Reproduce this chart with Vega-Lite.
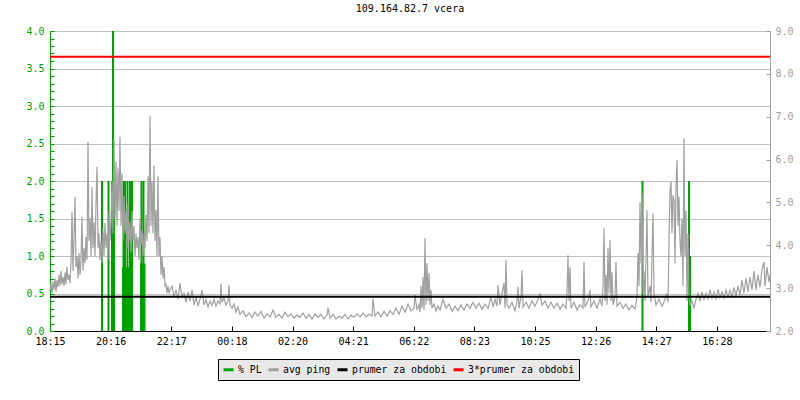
{
"$schema": "https://vega.github.io/schema/vega-lite/v6.json",
"width": 720, "height": 300,
"autosize": {"type": "none"},
"padding": {"left": 50, "top": 31, "right": 30, "bottom": 69},
"background": "white",
"title": {"text": "109.164.82.7 vcera", "font": "DejaVu Sans Mono", "fontSize": 10, "fontWeight": "normal", "color": "#000000", "anchor": "middle", "frame": "group", "offset": 12},
"config": {"view": {"stroke": null}, "axis": {"labelFont": "DejaVu Sans Mono", "labelFontSize": 10, "domainWidth": 1, "tickWidth": 1},
 "legend": {"title": null, "orient": "none", "legendX": 168, "legendY": 328, "direction": "horizontal", "columns": 4,
  "symbolType": "stroke", "symbolStrokeWidth": 3, "symbolSize": 100, "fillColor": "#e8e8e8", "strokeColor": "#000000",
  "padding": 4, "labelFont": "DejaVu Sans Mono", "labelFontSize": 9.8, "labelColor": "#000000", "columnPadding": 0, "labelOffset": 3}},
"datasets": {
"pl": [{"t":104,"pl":2.0},{"t":117,"pl":2.0},{"t":124,"pl":2.0},{"t":126,"pl":4.0},{"t":128,"pl":2.0},{"t":146,"pl":0.85},{"t":147,"pl":2.0},{"t":148,"pl":0.85},{"t":150,"pl":2.0},{"t":152,"pl":0.85},{"t":155,"pl":2.0},{"t":157,"pl":0.85},{"t":160,"pl":2.0},{"t":162,"pl":0.85},{"t":164,"pl":2.0},{"t":182,"pl":0.9},{"t":183,"pl":2.0},{"t":185,"pl":0.9},{"t":187,"pl":2.0},{"t":189,"pl":0.9},{"t":1185,"pl":2.0},{"t":1278,"pl":2.0},{"t":1280,"pl":1.0}],
"avg": [{"s":"prumer za obdobi","v":2.80},{"s":"3*prumer za obdobi","v":8.40}],
"ping": [
{"t":0,"ping":2.96},{"t":2,"ping":3.09},{"t":4,"ping":2.88},{"t":6,"ping":3.16},{"t":8,"ping":2.96},{"t":10,"ping":3.23},{"t":12,"ping":2.91},{"t":14,"ping":3.19},{"t":16,"ping":3.02},{"t":18,"ping":3.31},{"t":20,"ping":3.05},{"t":22,"ping":3.40},{"t":24,"ping":3.09},{"t":26,"ping":3.26},{"t":28,"ping":3.05},{"t":30,"ping":3.37},{"t":32,"ping":3.09},{"t":34,"ping":3.49},{"t":36,"ping":3.19},{"t":38,"ping":3.31},{"t":40,"ping":3.12},{"t":42,"ping":3.58},{"t":44,"ping":4.78},{"t":46,"ping":3.40},{"t":48,"ping":4.17},{"t":50,"ping":5.13},{"t":52,"ping":3.49},{"t":54,"ping":3.75},{"t":56,"ping":3.23},{"t":58,"ping":3.82},{"t":60,"ping":3.31},{"t":62,"ping":3.66},{"t":64,"ping":4.66},{"t":66,"ping":3.40},{"t":68,"ping":3.93},{"t":70,"ping":3.58},{"t":72,"ping":4.19},{"t":74,"ping":3.66},{"t":76,"ping":6.41},{"t":78,"ping":4.10},{"t":80,"ping":4.63},{"t":82,"ping":3.75},{"t":84,"ping":5.36},{"t":86,"ping":3.93},{"t":88,"ping":4.54},{"t":90,"ping":3.75},{"t":92,"ping":4.98},{"t":94,"ping":5.83},{"t":96,"ping":3.93},{"t":98,"ping":4.28},{"t":100,"ping":3.66},{"t":102,"ping":4.10},{"t":104,"ping":3.58},{"t":106,"ping":4.36},{"t":108,"ping":3.75},{"t":110,"ping":4.52},{"t":112,"ping":3.93},{"t":114,"ping":4.28},{"t":116,"ping":3.66},{"t":118,"ping":4.80},{"t":120,"ping":4.10},{"t":122,"ping":4.54},{"t":124,"ping":5.50},{"t":126,"ping":4.28},{"t":128,"ping":6.46},{"t":130,"ping":4.63},{"t":132,"ping":5.96},{"t":134,"ping":4.45},{"t":136,"ping":5.80},{"t":138,"ping":4.80},{"t":140,"ping":6.53},{"t":142,"ping":4.45},{"t":144,"ping":5.68},{"t":146,"ping":4.10},{"t":148,"ping":5.15},{"t":150,"ping":4.28},{"t":152,"ping":4.80},{"t":154,"ping":3.93},{"t":156,"ping":4.98},{"t":158,"ping":4.10},{"t":160,"ping":4.54},{"t":162,"ping":3.84},{"t":164,"ping":4.80},{"t":166,"ping":4.10},{"t":168,"ping":4.45},{"t":170,"ping":3.75},{"t":172,"ping":4.28},{"t":174,"ping":3.93},{"t":176,"ping":4.19},{"t":178,"ping":3.66},{"t":180,"ping":4.63},{"t":182,"ping":4.01},{"t":184,"ping":4.36},{"t":186,"ping":3.75},{"t":188,"ping":4.28},{"t":190,"ping":3.93},{"t":192,"ping":4.71},{"t":194,"ping":4.10},{"t":196,"ping":5.61},{"t":198,"ping":4.28},{"t":200,"ping":7.01},{"t":202,"ping":4.45},{"t":204,"ping":5.50},{"t":206,"ping":4.28},{"t":208,"ping":5.87},{"t":210,"ping":4.10},{"t":212,"ping":4.82},{"t":214,"ping":3.75},{"t":216,"ping":5.61},{"t":218,"ping":3.75},{"t":220,"ping":4.19},{"t":222,"ping":3.31},{"t":224,"ping":3.75},{"t":226,"ping":3.23},{"t":228,"ping":3.49},{"t":230,"ping":3.05},{"t":232,"ping":3.09},{"t":234,"ping":2.88},{"t":236,"ping":3.05},{"t":238,"ping":2.88},{"t":240,"ping":2.96},
{"t":244,"ping":3.05},{"t":248,"ping":2.79},{"t":252,"ping":2.96},{"t":256,"ping":2.74},{"t":260,"ping":3.12},{"t":264,"ping":2.79},{"t":268,"ping":2.88},{"t":272,"ping":2.67},{"t":276,"ping":2.91},{"t":280,"ping":2.70},{"t":284,"ping":2.96},{"t":288,"ping":2.61},{"t":292,"ping":2.79},{"t":296,"ping":2.58},{"t":300,"ping":2.74},{"t":304,"ping":2.96},{"t":308,"ping":2.61},{"t":312,"ping":2.74},{"t":316,"ping":2.56},{"t":320,"ping":2.70},{"t":324,"ping":2.60},{"t":328,"ping":2.74},{"t":332,"ping":2.58},{"t":336,"ping":2.70},{"t":340,"ping":2.63},{"t":342,"ping":3.10},{"t":344,"ping":2.67},{"t":348,"ping":2.77},{"t":352,"ping":2.60},{"t":356,"ping":2.70},{"t":358,"ping":3.07},{"t":360,"ping":2.61},{"t":364,"ping":2.53},{"t":368,"ping":2.63},{"t":372,"ping":2.44},{"t":376,"ping":2.56},{"t":380,"ping":2.39},
{"t":386,"ping":2.47},{"t":392,"ping":2.33},{"t":398,"ping":2.42},{"t":404,"ping":2.32},{"t":410,"ping":2.44},{"t":416,"ping":2.35},{"t":422,"ping":2.46},{"t":428,"ping":2.30},{"t":434,"ping":2.40},{"t":440,"ping":2.33},{"t":446,"ping":2.49},{"t":452,"ping":2.32},{"t":458,"ping":2.39},{"t":464,"ping":2.30},{"t":470,"ping":2.44},{"t":476,"ping":2.33},{"t":482,"ping":2.40},{"t":488,"ping":2.30},{"t":494,"ping":2.37},{"t":500,"ping":2.32},{"t":506,"ping":2.42},{"t":512,"ping":2.30},{"t":518,"ping":2.39},{"t":524,"ping":2.28},{"t":530,"ping":2.40},{"t":536,"ping":2.32},{"t":542,"ping":2.39},{"t":548,"ping":2.28},{"t":554,"ping":2.37},{"t":556,"ping":2.54},{"t":560,"ping":2.30},{"t":566,"ping":2.39},{"t":572,"ping":2.28},{"t":578,"ping":2.35},{"t":584,"ping":2.30},{"t":590,"ping":2.39},{"t":596,"ping":2.28},{"t":602,"ping":2.37},{"t":608,"ping":2.32},{"t":614,"ping":2.40},{"t":620,"ping":2.33},{"t":626,"ping":2.42},{"t":632,"ping":2.33},{"t":638,"ping":2.39},{"t":644,"ping":2.35},{"t":646,"ping":2.75},{"t":650,"ping":2.35},{"t":656,"ping":2.44},{"t":662,"ping":2.33},{"t":668,"ping":2.46},{"t":674,"ping":2.35},{"t":680,"ping":2.47},{"t":686,"ping":2.39},{"t":692,"ping":2.53},{"t":698,"ping":2.39},{"t":704,"ping":2.58},{"t":710,"ping":2.44},{"t":716,"ping":2.63},{"t":722,"ping":2.47},{"t":728,"ping":2.53},{"t":730,"ping":2.84},{"t":734,"ping":2.49},{"t":738,"ping":2.61},{"t":740,"ping":2.44},{"t":742,"ping":3.05},{"t":744,"ping":2.53},{"t":746,"ping":3.26},{"t":748,"ping":2.49},{"t":750,"ping":4.17},{"t":752,"ping":2.61},{"t":754,"ping":3.58},{"t":756,"ping":2.70},{"t":758,"ping":3.35},{"t":760,"ping":2.61},{"t":762,"ping":2.96},{"t":764,"ping":2.53},{"t":768,"ping":2.63},{"t":772,"ping":2.47},{"t":776,"ping":2.58},{"t":780,"ping":2.49},
{"t":786,"ping":2.74},{"t":792,"ping":2.53},{"t":798,"ping":2.63},{"t":804,"ping":2.46},{"t":810,"ping":2.58},{"t":816,"ping":2.47},{"t":822,"ping":2.61},{"t":828,"ping":2.49},{"t":834,"ping":2.63},{"t":840,"ping":2.53},{"t":846,"ping":2.67},{"t":852,"ping":2.53},{"t":858,"ping":2.65},{"t":864,"ping":2.51},{"t":870,"ping":2.63},{"t":876,"ping":2.53},{"t":882,"ping":2.79},{"t":886,"ping":2.56},{"t":890,"ping":2.74},{"t":894,"ping":2.58},{"t":896,"ping":3.07},{"t":900,"ping":2.61},{"t":904,"ping":2.88},{"t":908,"ping":3.12},{"t":910,"ping":2.53},{"t":912,"ping":3.66},{"t":914,"ping":2.61},{"t":918,"ping":2.53},{"t":924,"ping":2.67},{"t":930,"ping":2.47},{"t":934,"ping":2.70},{"t":936,"ping":3.03},{"t":938,"ping":2.53},{"t":942,"ping":2.79},{"t":944,"ping":3.42},{"t":946,"ping":2.56},{"t":952,"ping":2.67},{"t":958,"ping":2.53},{"t":964,"ping":2.70},{"t":970,"ping":2.58},{"t":976,"ping":2.74},{"t":980,"ping":2.88},{"t":984,"ping":2.60},{"t":990,"ping":2.70},{"t":996,"ping":2.53},{"t":1002,"ping":2.67},{"t":1008,"ping":2.53},{"t":1014,"ping":2.65},{"t":1020,"ping":2.51},{"t":1026,"ping":2.63},{"t":1032,"ping":2.53},{"t":1034,"ping":2.88},{"t":1036,"ping":3.77},{"t":1038,"ping":2.70},{"t":1040,"ping":3.49},{"t":1042,"ping":2.53},
{"t":1048,"ping":2.67},{"t":1054,"ping":2.49},{"t":1060,"ping":2.61},{"t":1066,"ping":2.53},{"t":1068,"ping":3.61},{"t":1070,"ping":2.56},{"t":1076,"ping":2.70},{"t":1080,"ping":2.96},{"t":1082,"ping":2.56},{"t":1088,"ping":2.70},{"t":1094,"ping":2.53},{"t":1100,"ping":2.74},{"t":1104,"ping":2.58},{"t":1106,"ping":3.03},{"t":1108,"ping":4.40},{"t":1110,"ping":2.70},{"t":1112,"ping":3.31},{"t":1114,"ping":2.61},{"t":1116,"ping":3.93},{"t":1118,"ping":2.88},{"t":1120,"ping":4.12},{"t":1122,"ping":2.70},{"t":1124,"ping":3.37},{"t":1126,"ping":2.61},{"t":1130,"ping":2.79},{"t":1132,"ping":3.61},{"t":1134,"ping":2.58},{"t":1140,"ping":2.67},{"t":1146,"ping":2.53},{"t":1152,"ping":2.63},{"t":1158,"ping":2.49},{"t":1164,"ping":2.60},{"t":1170,"ping":2.51},{"t":1174,"ping":2.79},{"t":1176,"ping":3.82},{"t":1178,"ping":3.05},{"t":1180,"ping":5.01},{"t":1182,"ping":3.58},{"t":1184,"ping":5.22},{"t":1186,"ping":2.88},{"t":1188,"ping":3.40},{"t":1190,"ping":2.70},{"t":1192,"ping":3.66},{"t":1194,"ping":4.82},{"t":1196,"ping":2.79},{"t":1200,"ping":3.05},{"t":1202,"ping":2.67},{"t":1206,"ping":4.75},{"t":1208,"ping":2.88},{"t":1212,"ping":2.61},{"t":1218,"ping":2.74},{"t":1224,"ping":2.58},{"t":1230,"ping":2.74},{"t":1234,"ping":2.88},{"t":1236,"ping":2.67},{"t":1238,"ping":4.10},{"t":1240,"ping":5.29},{"t":1242,"ping":5.48},{"t":1244,"ping":4.28},{"t":1246,"ping":5.17},{"t":1248,"ping":5.06},{"t":1250,"ping":3.58},{"t":1252,"ping":5.36},{"t":1254,"ping":5.99},{"t":1256,"ping":4.45},{"t":1258,"ping":5.13},{"t":1260,"ping":4.10},{"t":1262,"ping":3.75},{"t":1264,"ping":4.63},{"t":1266,"ping":3.05},{"t":1268,"ping":6.50},{"t":1270,"ping":3.75},{"t":1272,"ping":4.80},{"t":1274,"ping":2.70},{"t":1276,"ping":4.28},{"t":1278,"ping":2.79},{"t":1280,"ping":2.61},{"t":1284,"ping":2.70},{"t":1288,"ping":2.54},{"t":1292,"ping":2.74},
{"t":1296,"ping":2.88},{"t":1300,"ping":2.70},{"t":1304,"ping":2.91},{"t":1308,"ping":2.74},{"t":1312,"ping":2.88},{"t":1316,"ping":2.75},{"t":1320,"ping":2.96},{"t":1324,"ping":2.77},{"t":1328,"ping":2.91},{"t":1332,"ping":2.74},{"t":1336,"ping":2.98},{"t":1340,"ping":2.79},{"t":1344,"ping":2.91},{"t":1348,"ping":2.77},{"t":1352,"ping":2.96},{"t":1356,"ping":2.80},{"t":1360,"ping":2.95},{"t":1364,"ping":2.79},{"t":1368,"ping":3.02},{"t":1372,"ping":2.82},{"t":1376,"ping":3.05},{"t":1380,"ping":2.84},{"t":1384,"ping":3.19},{"t":1388,"ping":2.88},{"t":1392,"ping":3.23},{"t":1396,"ping":2.91},{"t":1400,"ping":3.26},{"t":1404,"ping":2.96},{"t":1408,"ping":3.40},{"t":1412,"ping":2.96},{"t":1416,"ping":3.31},{"t":1420,"ping":3.02},{"t":1424,"ping":3.44},{"t":1428,"ping":3.61},{"t":1430,"ping":3.05},{"t":1434,"ping":3.49},{"t":1438,"ping":3.14},{"t":1440,"ping":3.31}
]
},
"layer": [
{
"data": {"name": "pl"},
"mark": {"type": "rule", "strokeWidth": 2},
"encoding": {
"x": {"field": "t", "type": "quantitative", "scale": {"domain": [0, 1440], "nice": false, "zero": false},
 "axis": {"title": null, "values": [0,121.25,242.5,363.75,485,606.25,727.5,848.75,970,1091.25,1212.5,1333.75],
 "labelExpr": "['18:15','20:16','22:17','00:18','02:20','04:21','06:22','08:23','10:25','12:26','14:27','16:28'][round(datum.value/121.25)]",
 "tickSize": -5, "labelPadding": 10, "domainColor": "#000000", "tickColor": "#000000", "labelColor": "#000000", "grid": false, "labelFlush": false, "labelOverlap": false}},
"y": {"field": "pl", "type": "quantitative", "scale": {"domain": [0, 4], "nice": false},
 "axis": {"title": null, "values": [0,0.1,0.2,0.3,0.4,0.5,0.6,0.7,0.8,0.9,1.0,1.1,1.2,1.3,1.4,1.5,1.6,1.7,1.8,1.9,2.0,2.1,2.2,2.3,2.4,2.5,2.6,2.7,2.8,2.9,3.0,3.1,3.2,3.3,3.4,3.5,3.6,3.7,3.8,3.9,4.0],
 "labelExpr": "abs(datum.value*2 - round(datum.value*2)) < 0.001 ? format(datum.value, '.1f') : ''",
 "tickSize": -4, "labelPadding": 10, "domainColor": "#00a000", "tickColor": "#00a000", "labelColor": "#00a000",
 "grid": true, "gridColor": "#c0c0c0", "gridOpacity": {"condition": {"test": "abs(datum.value*2 - round(datum.value*2)) < 0.001", "value": 1}, "value": 0},
 "labelOverlap": false, "labelFlush": false}},
"y2": {"datum": 0},
"color": {"datum": "% PL", "type": "nominal",
 "scale": {"domain": ["% PL", "avg ping", "prumer za obdobi", "3*prumer za obdobi"], "range": ["#00a000", "#a0a0a0", "#000000", "#ff0000"]},
 "legend": {"title": null}}
}
},
{
"layer": [
{
"data": {"name": "ping"},
"mark": {"type": "line", "strokeWidth": 1.2},
"encoding": {
"x": {"field": "t", "type": "quantitative"},
"y": {"field": "ping", "type": "quantitative", "scale": {"domain": [2, 9], "nice": false, "zero": false},
 "axis": {"title": null, "orient": "right", "values": [2,2.5,3,3.5,4,4.5,5,5.5,6,6.5,7,7.5,8,8.5,9],
 "labelExpr": "datum.value % 1 == 0 ? format(datum.value, '.1f') : ''",
 "tickSize": -4, "labelPadding": 9, "domainColor": "#a0a0a0", "tickColor": "#a0a0a0", "labelColor": "#a0a0a0",
 "grid": false, "labelOverlap": false, "labelFlush": false}},
"color": {"datum": "avg ping", "type": "nominal", "legend": {"title": null}}
}
},
{
"data": {"name": "avg"},
"mark": {"type": "rule", "strokeWidth": 2},
"encoding": {
"y": {"field": "v", "type": "quantitative"},
"color": {"field": "s", "type": "nominal", "legend": {"title": null}}
}
}
]
}
],
"resolve": {"scale": {"y": "independent"}}
}
